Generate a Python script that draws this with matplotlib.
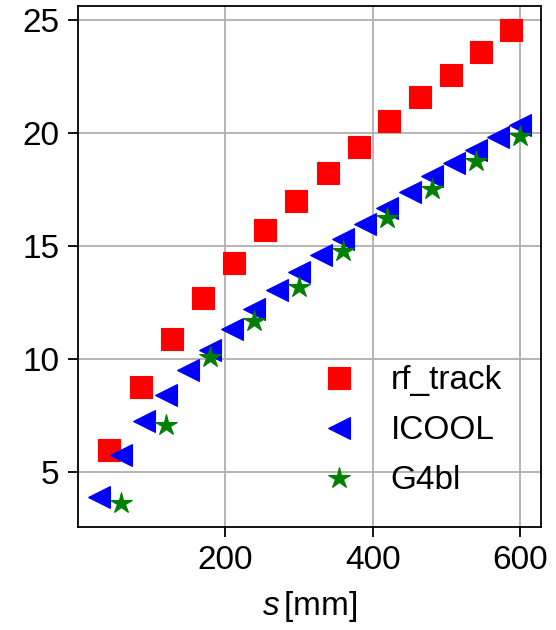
import numpy as np
import matplotlib
matplotlib.use("Agg")
import matplotlib.pyplot as plt

# шрифты и mathtext, похожие на Helvetica
plt.rcParams['font.family'] = ['Liberation Sans', 'DejaVu Sans']
plt.rcParams['mathtext.fontset'] = 'custom'
plt.rcParams['mathtext.rm'] = 'Liberation Sans'
plt.rcParams['mathtext.it'] = 'Liberation Sans:italic'

# данные
rf_s = [43, 86, 128, 171, 213, 255, 297, 339, 381, 422, 464, 506, 547, 587]
rf_val = [6.0, 8.77, 10.9, 12.7, 14.25, 15.7, 17.0, 18.25, 19.4, 20.55,
          21.6, 22.6, 23.6, 24.55]

icool_s = list(range(30, 601, 30))
icool_val = [3.9, 5.75, 7.25, 8.4, 9.5, 10.4, 11.35, 12.2, 13.05, 13.85,
             14.6, 15.3, 16.0, 16.7, 17.4, 18.1, 18.7, 19.25, 19.85, 20.35]

g4bl_s = list(range(60, 601, 60))
g4bl_val = [3.65, 7.1, 10.1, 11.7, 13.2, 14.8, 16.25, 17.55, 18.75, 19.9]

FS = 24

fig = plt.figure(figsize=(5.56, 6.3), dpi=100)
ax = fig.add_axes([0.140, 0.1635, 0.833, 0.8265])

ax.plot(rf_s, rf_val, 's', color='red', ms=16, mew=0.8, label='rf_track')
ax.plot(icool_s, icool_val, '<', color='blue', ms=16, mew=0.8, label='ICOOL')
ax.plot(g4bl_s, g4bl_val, '*', color='green', ms=16, mew=0.8, label='G4bl')

ax.set_xlim(1, 628)
ax.set_ylim(2.57, 25.62)
ax.set_xticks([200, 400, 600])
ax.set_yticks([5, 10, 15, 20, 25])
ax.grid(True, color='#b0b0b0', linewidth=1.3)
ax.set_axisbelow(True)
for sp in ax.spines.values():
    sp.set_linewidth(1.3)
ax.tick_params(labelsize=FS, length=7, width=1.3, pad=6)
ax.set_xlabel(r'$s\,$[mm]', fontsize=FS, labelpad=9)

ax.legend(loc='lower right', bbox_to_anchor=(0.966, 0.014), frameon=False,
          fontsize=FS, labelspacing=0.57, handletextpad=0.55,
          borderaxespad=0.3)

plt.savefig('out.png', dpi=100)
plt.close()
